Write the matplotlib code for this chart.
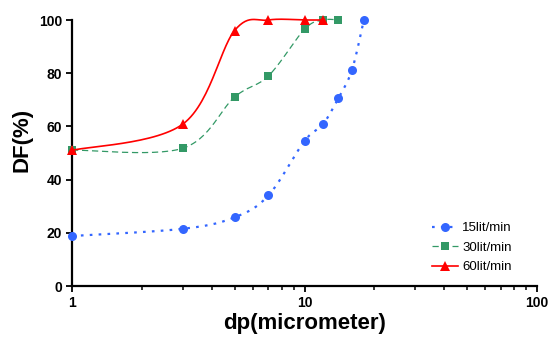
#!/usr/bin/env python3

import numpy as np
import matplotlib
matplotlib.use('Agg')
from matplotlib import pyplot as plt

# data
dp_15 = [1, 3, 5, 7, 10, 12, 14, 16, 18]
df_15 = [18.8, 21.5, 25.8, 34.1, 54.5, 60.8, 70.7, 81.2, 100]
dp_30 = [1, 3, 5, 7, 10, 12, 14]
df_30 = [51.1, 51.8, 71.0, 79.0, 96.5, 100, 100]
dp_60 = [1, 3, 5, 7, 10, 12]
df_60 = [51.0, 60.9, 96.0, 100, 100, 100]

x_ticks = [1, 10, 100]
x_tick_labels = ["1", "10", "100"]
y_ticks = [0, 20, 40, 60, 80, 100]

N_SEG = 30


def smooth(ax, x, y, n=N_SEG):
    """Excel-style smoothed line (bezier through the points, in display space)."""
    pts = ax.transData.transform(np.column_stack([x, y]))
    out = [pts[0]]
    t = np.linspace(0, 1, n)[1:, None]
    for i in range(len(pts) - 1):
        p0 = pts[i - 1] if i > 0 else pts[i]
        p1 = pts[i]
        p2 = pts[i + 1]
        p3 = pts[i + 2] if i + 2 < len(pts) else pts[i + 1]
        c1 = p1 + (p2 - p0) / 6
        c2 = p2 - (p3 - p1) / 6
        seg = ((1 - t) ** 3 * p1 + 3 * (1 - t) ** 2 * t * c1
               + 3 * (1 - t) * t ** 2 * c2 + t ** 3 * p2)
        out.extend(seg)
    out = ax.transData.inverted().transform(np.array(out))
    return out[:, 0], out[:, 1]


def main():
    plt.rcParams['font.family'] = ['Liberation Sans', 'DejaVu Sans']

    fig = plt.figure(figsize=(5.49, 3.41), dpi=100)
    ax = fig.add_axes([72 / 549, 1 - 286 / 341, (537 - 72) / 549, (286 - 20) / 341])
    ax.set_xscale('log')
    ax.set_xlim(1, 100)
    ax.set_ylim(0, 100)

    series = [
        (dp_15, df_15, '15lit/min', '#3366FF', 'o', (0, (1.2, 2.8)), 1.6, 6.5),
        (dp_30, df_30, '30lit/min', '#339966', 's', (0, (5, 3)), 0.9, 6),
        (dp_60, df_60, '60lit/min', '#FF0000', '^', '-', 1.2, 6.5),
    ]
    for x, y, label, color, marker, ls, lw, ms in series:
        sx, sy = smooth(ax, x, y)
        ax.plot(sx, sy, color=color, linestyle=ls, linewidth=lw,
                marker=marker, markersize=ms, markeredgewidth=0,
                markevery=[i * (N_SEG - 1) for i in range(len(x))],
                label=label, clip_on=False, zorder=3)

    ax.spines['top'].set_visible(False)
    ax.spines['right'].set_visible(False)
    ax.spines['left'].set_linewidth(1.6)
    ax.spines['bottom'].set_linewidth(1.6)

    ax.set_xticks(x_ticks)
    ax.set_xticklabels(x_tick_labels)
    ax.set_yticks(y_ticks)
    ax.tick_params(axis='both', which='major', direction='out', length=4,
                   width=1.3, labelsize=10, pad=3)
    ax.tick_params(axis='x', which='minor', direction='out', length=3, width=1.1)
    for lab in ax.get_xticklabels() + ax.get_yticklabels():
        lab.set_fontweight('bold')

    ax.set_xlabel('dp(micrometer)', fontsize=16, fontweight='bold', labelpad=2)
    ax.set_ylabel('DF(%)', fontsize=16, fontweight='bold')
    ax.yaxis.set_label_coords(-0.086, 0.55)

    ax.legend(loc='upper left', bbox_to_anchor=(432 / 549, 1 - 222 / 341),
              bbox_transform=fig.transFigure, frameon=False, fontsize=9.5,
              borderpad=0, borderaxespad=0, handlelength=2.0,
              handletextpad=0.3, labelspacing=0.55)

    fig.savefig('out.png', dpi=100)


if __name__ == "__main__":
    main()
